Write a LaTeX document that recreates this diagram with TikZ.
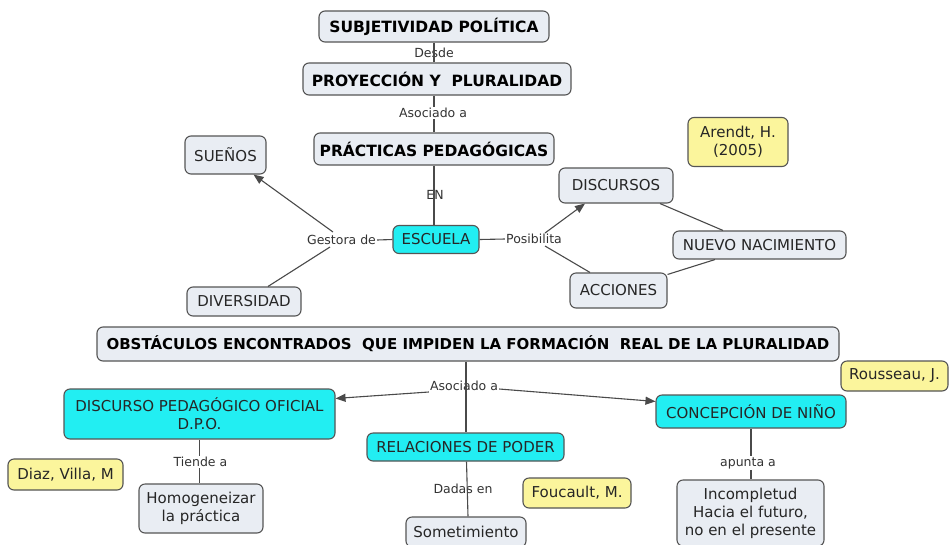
\documentclass[tikz,border=0pt]{standalone}
\usepackage{fontspec}
\setmainfont{DejaVu Sans}
\usetikzlibrary{arrows.meta}
\definecolor{boxfill}{HTML}{E9EDF3}
\definecolor{boxline}{HTML}{555555}
\definecolor{cyanfill}{HTML}{22EEF2}
\definecolor{yelfill}{HTML}{FBF59C}
\definecolor{linkc}{HTML}{4A4A4A}
\tikzset{
  concept/.style={draw=boxline, line width=1.1pt, fill=boxfill, rounded corners=6pt,
    align=center, inner sep=0pt, font=\fontsize{15}{18}\selectfont, text=black!85},
  title/.style={concept, font=\fontsize{15.5}{18}\selectfont\bfseries, text=black},
  cyanbox/.style={concept, fill=cyanfill},
  refbox/.style={concept, fill=yelfill},
  lab/.style={inner sep=1pt, font=\fontsize{12.5}{14}\selectfont, text=black!80},
  conn/.style={draw=linkc, line width=1.1pt},
  arr/.style={conn, -{Triangle[length=10pt,width=8pt]}}
}
\begin{document}
\begin{tikzpicture}[x=1pt,y=-1pt]
\useasboundingbox[fill=white] (0,0) rectangle (949,544);
% top chain
\node[title, minimum width=230pt, minimum height=31pt] (subj) at (434,26.5) {SUBJETIVIDAD POLÍTICA};
\node[title, minimum width=268pt, minimum height=32pt] (proy) at (437,79) {PROYECCIÓN Y\ \ PLURALIDAD};
\node[title, minimum width=240pt, minimum height=32pt] (prac) at (434,149) {PRÁCTICAS PEDAGÓGICAS};
\node[cyanbox, minimum width=86pt, minimum height=28pt] (esc) at (436,239.5) {ESCUELA};
\node[concept, minimum width=81pt, minimum height=38pt] (suenos) at (225.5,155) {SUEÑOS};
\node[concept, minimum width=114pt, minimum height=29pt] (divers) at (244,301.5) {DIVERSIDAD};
\node[concept, minimum width=114pt, minimum height=35pt] (disc) at (616,185.5) {DISCURSOS};
\node[concept, minimum width=173pt, minimum height=28pt] (nuevo) at (759.5,245) {NUEVO NACIMIENTO};
\node[concept, minimum width=97pt, minimum height=35pt] (acc) at (618.5,290.5) {ACCIONES};
\node[refbox, minimum width=100pt, minimum height=49pt] (arendt) at (738,142) {Arendt, H.\\(2005)};
% labels top
\node[lab] (desde) at (434,53) {Desde};
\node[lab] (asoc1) at (433,113) {Asociado a};
\node[lab] (en) at (435,194.5) {EN};
\node[lab] (gest) at (341.5,240) {Gestora de};
\node[lab] (posib) at (534,239) {Posibilita};
\coordinate (g1) at (333,232);
\coordinate (g2) at (330,247);
\coordinate (p1) at (545,233);
\coordinate (p2) at (545,246);
% connectors top
\draw[conn] (subj.south) -- (subj.south |- proy.north);
\draw[conn] (asoc1.north -| prac.north) -- (proy.south -| prac.north);
\draw[conn] (asoc1.south -| prac.north) -- (prac.north);
\draw[conn] (prac.south) -- (esc.north -| prac.south);
\draw[conn] (esc.west) -- (gest.east);
\draw[arr] (g1) -- ([xshift=-13pt]suenos.south east);
\draw[conn] (g2) -- ([xshift=24pt]divers.north);
\draw[conn] (esc.east) -- (posib.west);
\draw[arr] (p1) -- ([xshift=-31pt]disc.south);
\draw[conn] (p2) -- ([xshift=-28.5pt]acc.north);
\draw[conn] ([xshift=44pt]disc.south) -- ([xshift=-36.5pt]nuevo.north);
\draw[conn] ([xshift=-44.5pt]nuevo.south) -- ([yshift=-2pt]acc.north east);
% bottom part
\node[title, font=\fontsize{15}{18}\selectfont\bfseries, minimum width=742pt, minimum height=34pt] (obst) at (468,344) {OBSTÁCULOS ENCONTRADOS\ \ QUE IMPIDEN LA FORMACIÓN\ \ REAL DE LA PLURALIDAD};
\node[cyanbox, minimum width=271pt, minimum height=50pt] (dpo) at (199.5,414) {DISCURSO PEDAGÓGICO OFICIAL\\D.P.O.};
\node[concept, minimum width=124pt, minimum height=49pt] (homog) at (201,508.5) {Homogeneizar\\la práctica};
\node[refbox, minimum width=115pt, minimum height=31pt] (diaz) at (65.5,474.5) {Diaz, Villa, M};
\node[cyanbox, minimum width=197pt, minimum height=28pt] (relac) at (465.5,447) {RELACIONES DE PODER};
\node[concept, minimum width=120pt, minimum height=30pt] (somet) at (466,532) {Sometimiento};
\node[refbox, minimum width=108pt, minimum height=30pt] (fouc) at (577,493) {Foucault, M.};
\node[cyanbox, minimum width=190pt, minimum height=33pt] (concep) at (751,411.5) {CONCEPCIÓN DE NIÑO};
\node[concept, minimum width=147pt, minimum height=66pt] (incomp) at (750.5,513) {Incompletud\\Hacia el futuro,\\no en el presente};
\node[refbox, minimum width=107pt, minimum height=30pt] (rous) at (894.5,376) {Rousseau, J.};
% labels bottom
\node[lab] (asoc2) at (464,386) {Asociado a};
\node[lab] (tiende) at (200.5,462) {Tiende a};
\node[lab] (dadas) at (463,489) {Dadas en};
\node[lab] (apunta) at (748,463) {apunta a};
% connectors bottom
\coordinate (ob) at ([xshift=-2pt]obst.south);
\draw[conn] (ob) -- (ob |- relac.north);
\draw[arr] ([yshift=-6pt]asoc2.west) -- ([yshift=-10pt]dpo.north east);
\draw[arr] ([yshift=-3pt]asoc2.east) -- ([yshift=-7pt]concep.north west);
\draw[conn] (dpo.south) -- (tiende.north -| dpo.south);
\draw[conn] (tiende.south -| dpo.south) -- (homog.north -| dpo.south);
\draw[conn] ([xshift=1pt]relac.south) -- ([xshift=2pt]somet.north);
\draw[conn] (concep.south) -- (apunta.north -| concep.south);
\draw[conn] (apunta.south -| concep.south) -- (incomp.north -| concep.south);
\end{tikzpicture}
\end{document}
